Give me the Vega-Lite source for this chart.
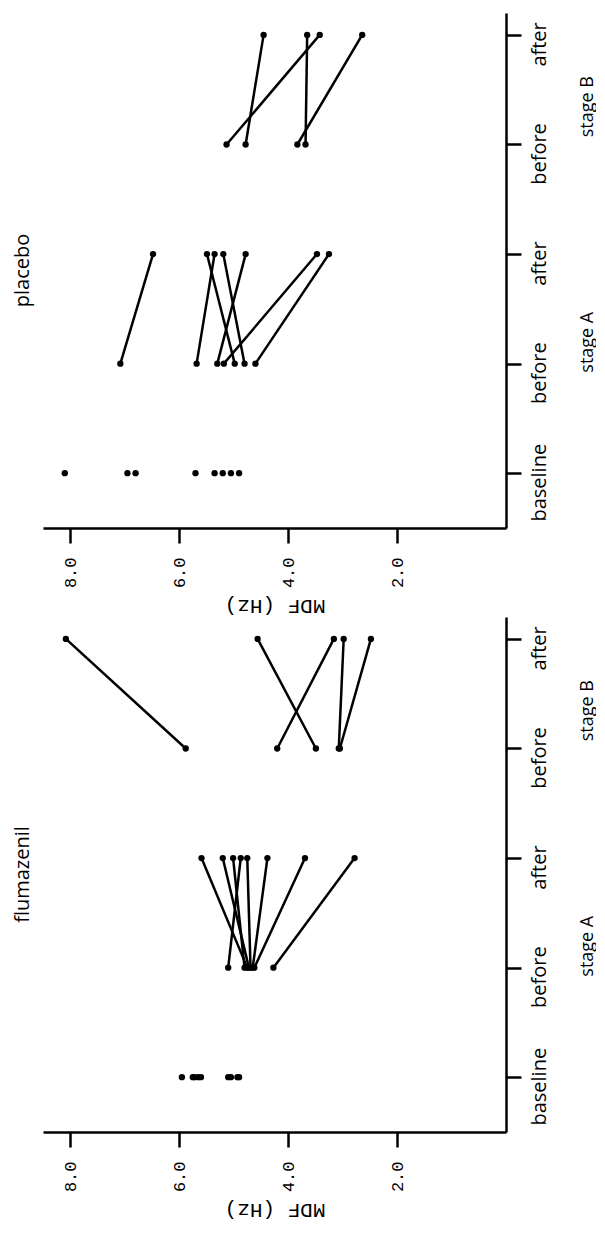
{
  "$schema": "https://vega.github.io/schema/vega-lite/v6.json",
  "background": "white",
  "padding": {"left": 12, "top": 13, "right": 0, "bottom": 0},
  "config": {
    "view": {"stroke": null},
    "axis": {"grid": false, "domainColor": "black", "tickColor": "black", "domainWidth": 2.5, "tickWidth": 2.5, "labelColor": "black", "titleColor": "black"},
    "concat": {"spacing": 0}
  },
  "datasets": {
    "mdf": [
      {"g": "placebo", "id": "pb1", "t": 1, "mdf": 8.1},
      {"g": "placebo", "id": "pb2", "t": 1, "mdf": 6.95},
      {"g": "placebo", "id": "pb3", "t": 1, "mdf": 6.8},
      {"g": "placebo", "id": "pb4", "t": 1, "mdf": 5.7},
      {"g": "placebo", "id": "pb5", "t": 1, "mdf": 5.35},
      {"g": "placebo", "id": "pb6", "t": 1, "mdf": 5.2},
      {"g": "placebo", "id": "pb7", "t": 1, "mdf": 5.05},
      {"g": "placebo", "id": "pb8", "t": 1, "mdf": 4.9},
      {"g": "placebo", "id": "pA1", "t": 2, "mdf": 7.08},
      {"g": "placebo", "id": "pA1", "t": 3, "mdf": 6.48},
      {"g": "placebo", "id": "pA2", "t": 2, "mdf": 5.68},
      {"g": "placebo", "id": "pA2", "t": 3, "mdf": 5.35},
      {"g": "placebo", "id": "pA3", "t": 2, "mdf": 5.3},
      {"g": "placebo", "id": "pA3", "t": 3, "mdf": 4.78},
      {"g": "placebo", "id": "pA4", "t": 2, "mdf": 5.18},
      {"g": "placebo", "id": "pA4", "t": 3, "mdf": 3.47},
      {"g": "placebo", "id": "pA5", "t": 2, "mdf": 4.98},
      {"g": "placebo", "id": "pA5", "t": 3, "mdf": 5.49},
      {"g": "placebo", "id": "pA6", "t": 2, "mdf": 4.8},
      {"g": "placebo", "id": "pA6", "t": 3, "mdf": 5.19},
      {"g": "placebo", "id": "pA7", "t": 2, "mdf": 4.6},
      {"g": "placebo", "id": "pA7", "t": 3, "mdf": 3.25},
      {"g": "placebo", "id": "pB1", "t": 4, "mdf": 5.13},
      {"g": "placebo", "id": "pB1", "t": 5, "mdf": 3.42},
      {"g": "placebo", "id": "pB2", "t": 4, "mdf": 4.78},
      {"g": "placebo", "id": "pB2", "t": 5, "mdf": 4.45},
      {"g": "placebo", "id": "pB3", "t": 4, "mdf": 3.83},
      {"g": "placebo", "id": "pB3", "t": 5, "mdf": 2.64},
      {"g": "placebo", "id": "pB4", "t": 4, "mdf": 3.68},
      {"g": "placebo", "id": "pB4", "t": 5, "mdf": 3.65},
      {"g": "flumazenil", "id": "fb1", "t": 1, "mdf": 5.95},
      {"g": "flumazenil", "id": "fb2", "t": 1, "mdf": 5.75},
      {"g": "flumazenil", "id": "fb3", "t": 1, "mdf": 5.72},
      {"g": "flumazenil", "id": "fb4", "t": 1, "mdf": 5.65},
      {"g": "flumazenil", "id": "fb5", "t": 1, "mdf": 5.6},
      {"g": "flumazenil", "id": "fb6", "t": 1, "mdf": 5.1},
      {"g": "flumazenil", "id": "fb7", "t": 1, "mdf": 5.05},
      {"g": "flumazenil", "id": "fb8", "t": 1, "mdf": 4.93},
      {"g": "flumazenil", "id": "fb9", "t": 1, "mdf": 4.9},
      {"g": "flumazenil", "id": "fA1", "t": 2, "mdf": 4.75},
      {"g": "flumazenil", "id": "fA1", "t": 3, "mdf": 5.59},
      {"g": "flumazenil", "id": "fA2", "t": 2, "mdf": 4.72},
      {"g": "flumazenil", "id": "fA2", "t": 3, "mdf": 5.2},
      {"g": "flumazenil", "id": "fA3", "t": 2, "mdf": 4.8},
      {"g": "flumazenil", "id": "fA3", "t": 3, "mdf": 5.01},
      {"g": "flumazenil", "id": "fA4", "t": 2, "mdf": 5.1},
      {"g": "flumazenil", "id": "fA4", "t": 3, "mdf": 4.87},
      {"g": "flumazenil", "id": "fA5", "t": 2, "mdf": 4.69},
      {"g": "flumazenil", "id": "fA5", "t": 3, "mdf": 4.75},
      {"g": "flumazenil", "id": "fA6", "t": 2, "mdf": 4.65},
      {"g": "flumazenil", "id": "fA6", "t": 3, "mdf": 4.38},
      {"g": "flumazenil", "id": "fA7", "t": 2, "mdf": 4.62},
      {"g": "flumazenil", "id": "fA7", "t": 3, "mdf": 3.69},
      {"g": "flumazenil", "id": "fA8", "t": 2, "mdf": 4.27},
      {"g": "flumazenil", "id": "fA8", "t": 3, "mdf": 2.78},
      {"g": "flumazenil", "id": "fB1", "t": 4, "mdf": 5.88},
      {"g": "flumazenil", "id": "fB1", "t": 5, "mdf": 8.08},
      {"g": "flumazenil", "id": "fB2", "t": 4, "mdf": 4.2},
      {"g": "flumazenil", "id": "fB2", "t": 5, "mdf": 3.16},
      {"g": "flumazenil", "id": "fB3", "t": 4, "mdf": 3.49},
      {"g": "flumazenil", "id": "fB3", "t": 5, "mdf": 4.56},
      {"g": "flumazenil", "id": "fB4", "t": 4, "mdf": 3.07},
      {"g": "flumazenil", "id": "fB4", "t": 5, "mdf": 2.98},
      {"g": "flumazenil", "id": "fB5", "t": 4, "mdf": 3.05},
      {"g": "flumazenil", "id": "fB5", "t": 5, "mdf": 2.48}
    ]
  },
  "vconcat": [
    {
      "width": 463, "height": 515,
      "title": {"text": "placebo", "orient": "left", "anchor": "middle", "font": "Open Sans", "fontSize": 20, "fontWeight": "normal", "offset": 10, "color": "black"},
      "data": {"name": "mdf"},
      "transform": [{"filter": "datum.g === 'placebo'"}],
      "layer": [
        {
          "mark": {"type": "line", "color": "black", "strokeWidth": 2.5},
          "encoding": {
            "x": {"field": "mdf", "type": "quantitative", "scale": {"domain": [0, 8.5], "reverse": true, "nice": false, "zero": false},
              "axis": {"orient": "bottom", "values": [8, 6, 4, 2], "format": ".1f", "title": "MDF (Hz)", "tickSize": 15, "labelAngle": 270, "labelAlign": "right", "labelBaseline": "middle", "labelPadding": 14, "labelFont": "Liberation Mono", "labelFontSize": 17, "labelOverlap": false, "titleFont": "Liberation Mono", "titleFontSize": 21, "titleFontWeight": "normal", "titleAngle": 180, "titleBaseline": "bottom", "titlePadding": 8}},
            "y": {"field": "t", "type": "quantitative", "scale": {"domain": [0.5, 5.2], "nice": false, "zero": false},
              "axis": {"orient": "right", "values": [1, 2, 3, 4, 5], "labelExpr": "['', 'baseline', 'before', 'after', 'before', 'after'][datum.value]", "title": null, "tickSize": 15, "labelAngle": 270, "labelAlign": "center", "labelBaseline": "top", "labelPadding": 8, "labelOffset": 9, "labelFont": "Open Sans", "labelFontSize": 20, "labelOverlap": false}},
            "detail": {"field": "id"},
            "order": {"field": "t"}
          }
        },
        {
          "mark": {"type": "point", "filled": true, "color": "black", "size": 40, "opacity": 1},
          "encoding": {
            "x": {"field": "mdf", "type": "quantitative"},
            "y": {"field": "t", "type": "quantitative",
              "axis": {"orient": "right", "values": [2.2, 4.35], "labelExpr": "datum.value < 3 ? 'stage A' : 'stage B'", "title": null, "domain": false, "ticks": false, "labelAngle": 270, "labelAlign": "center", "labelBaseline": "top", "labelPadding": 72, "labelFont": "Open Sans", "labelFontSize": 18, "labelOverlap": false}}
          }
        }
      ],
      "resolve": {"axis": {"y": "independent"}}
    },
    {
      "width": 463, "height": 515,
      "title": {"text": "flumazenil", "orient": "left", "anchor": "middle", "font": "Open Sans", "fontSize": 20, "fontWeight": "normal", "offset": 10, "color": "black"},
      "data": {"name": "mdf"},
      "transform": [{"filter": "datum.g === 'flumazenil'"}],
      "layer": [
        {
          "mark": {"type": "line", "color": "black", "strokeWidth": 2.5},
          "encoding": {
            "x": {"field": "mdf", "type": "quantitative", "scale": {"domain": [0, 8.5], "reverse": true, "nice": false, "zero": false},
              "axis": {"orient": "bottom", "values": [8, 6, 4, 2], "format": ".1f", "title": "MDF (Hz)", "tickSize": 15, "labelAngle": 270, "labelAlign": "right", "labelBaseline": "middle", "labelPadding": 14, "labelFont": "Liberation Mono", "labelFontSize": 17, "labelOverlap": false, "titleFont": "Liberation Mono", "titleFontSize": 21, "titleFontWeight": "normal", "titleAngle": 180, "titleBaseline": "bottom", "titlePadding": 8}},
            "y": {"field": "t", "type": "quantitative", "scale": {"domain": [0.5, 5.2], "nice": false, "zero": false},
              "axis": {"orient": "right", "values": [1, 2, 3, 4, 5], "labelExpr": "['', 'baseline', 'before', 'after', 'before', 'after'][datum.value]", "title": null, "tickSize": 15, "labelAngle": 270, "labelAlign": "center", "labelBaseline": "top", "labelPadding": 8, "labelOffset": 9, "labelFont": "Open Sans", "labelFontSize": 20, "labelOverlap": false}},
            "detail": {"field": "id"},
            "order": {"field": "t"}
          }
        },
        {
          "mark": {"type": "point", "filled": true, "color": "black", "size": 40, "opacity": 1},
          "encoding": {
            "x": {"field": "mdf", "type": "quantitative"},
            "y": {"field": "t", "type": "quantitative",
              "axis": {"orient": "right", "values": [2.2, 4.35], "labelExpr": "datum.value < 3 ? 'stage A' : 'stage B'", "title": null, "domain": false, "ticks": false, "labelAngle": 270, "labelAlign": "center", "labelBaseline": "top", "labelPadding": 72, "labelFont": "Open Sans", "labelFontSize": 18, "labelOverlap": false}}
          }
        }
      ],
      "resolve": {"axis": {"y": "independent"}}
    }
  ]
}
